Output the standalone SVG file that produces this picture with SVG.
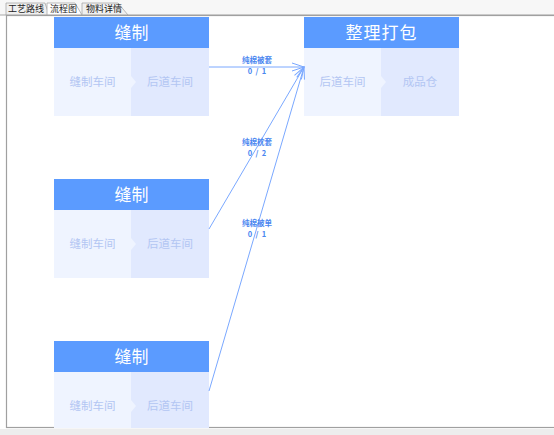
<svg xmlns="http://www.w3.org/2000/svg" width="554" height="435" viewBox="0 0 554 435">
<style>
.hd{fill:#5b9bff}
.bl{fill:#eff4ff}
.br{fill:#e1e9fe}
.ht{font-family:"Noto Sans CJK SC","Noto Sans",sans-serif;font-size:17px;fill:#ffffff;text-anchor:middle}
.bt{font-family:"Noto Sans CJK SC",sans-serif;font-size:11.5px;fill:#b3c6f3;text-anchor:middle}
.lt{font-family:"Noto Sans CJK SC",sans-serif;font-size:7.5px;fill:#4a86f0;text-anchor:middle;font-weight:bold}
.tab{font-family:"Noto Sans CJK SC",sans-serif;font-size:9px;fill:#222}
.edge{stroke:#7aa8ff;stroke-width:1;fill:none}
</style>
<defs>
<marker id="arr" markerWidth="14" markerHeight="10" refX="13" refY="5" orient="auto" markerUnits="userSpaceOnUse">
<path d="M1,1 L13,5 L1,9" fill="none" stroke="#7aa8ff" stroke-width="1"/>
</marker>
</defs>
<rect x="0" y="0" width="554" height="435" fill="#ffffff"/>
<rect x="0" y="0" width="554" height="15" fill="#f7f7f7"/>
<g id="tabs">
<path d="M6,15 L6,3 L45,3 L49,15" fill="#f0f0f0" stroke="#a8a8a8" stroke-width="0.8"/>
<path d="M47,15 L47,3 L75,3 L82,15" fill="#ffffff" stroke="#a8a8a8" stroke-width="0.8"/>
<path d="M82,15 L82,3 L118,3 L128,15" fill="#f0f0f0" stroke="#a8a8a8" stroke-width="0.8"/>
<text class="tab" x="8" y="12">工艺路线</text>
<text class="tab" x="50" y="12">流程图</text>
<text class="tab" x="86" y="12">物料详情</text>
</g>
<line x1="0" y1="15" x2="554" y2="15" stroke="#a8a8a8" stroke-width="1"/>
<rect x="6.5" y="15.5" width="560" height="412" fill="none" stroke="#a0a0a0" stroke-width="1.2"/>
<rect x="0" y="429" width="554" height="6" fill="#ededed"/>

<g id="node1">
<rect class="bl" x="54" y="48" width="77" height="68"/>
<rect class="br" x="131" y="48" width="78" height="68"/>
<path d="M131,76 L136,82 L131,88 Z" class="bl"/>
<rect class="hd" x="54" y="17" width="155" height="31"/>
<text class="ht" x="131.5" y="38.5">缝制</text>
<text class="bt" x="92.5" y="86">缝制车间</text>
<text class="bt" x="170" y="86">后道车间</text>
</g>
<g id="node2">
<rect class="bl" x="54" y="210" width="77" height="68"/>
<rect class="br" x="131" y="210" width="78" height="68"/>
<path d="M131,238 L136,244 L131,250 Z" class="bl"/>
<rect class="hd" x="54" y="179" width="155" height="31"/>
<text class="ht" x="131.5" y="200.5">缝制</text>
<text class="bt" x="92.5" y="248">缝制车间</text>
<text class="bt" x="170" y="248">后道车间</text>
</g>
<g id="node3">
<rect class="bl" x="54" y="372" width="77" height="56"/>
<rect class="br" x="131" y="372" width="78" height="56"/>
<path d="M131,400 L136,406 L131,412 Z" class="bl"/>
<rect class="hd" x="54" y="341" width="155" height="31"/>
<text class="ht" x="131.5" y="362.5">缝制</text>
<text class="bt" x="92.5" y="410">缝制车间</text>
<text class="bt" x="170" y="410">后道车间</text>
</g>
<g id="node4">
<rect class="bl" x="304" y="48" width="77" height="68"/>
<rect class="br" x="381" y="48" width="78" height="68"/>
<path d="M381,76 L386,82 L381,88 Z" class="bl"/>
<rect class="hd" x="304" y="17" width="155" height="31"/>
<text class="ht" x="381.5" y="38.5" style="letter-spacing:1px">整理打包</text>
<text class="bt" x="342.5" y="86">后道车间</text>
<text class="bt" x="420" y="86">成品仓</text>
</g>

<g id="connectors">
<line class="edge" x1="209" y1="67" x2="304" y2="67" marker-end="url(#arr)"/>
<line class="edge" x1="209" y1="229" x2="304" y2="67" marker-end="url(#arr)"/>
<line class="edge" x1="209" y1="391" x2="304" y2="67" marker-end="url(#arr)"/>
<text class="lt" x="257" y="62.5">纯棉被套</text>
<text class="lt" x="257" y="73.5" xml:space="preserve">0  /  1</text>
<text class="lt" x="257" y="144.5">纯棉枕套</text>
<text class="lt" x="257" y="155.5" xml:space="preserve">0  /  2</text>
<text class="lt" x="257" y="225.5">纯棉被单</text>
<text class="lt" x="257" y="236.5" xml:space="preserve">0  /  1</text>
</g>
</svg>
